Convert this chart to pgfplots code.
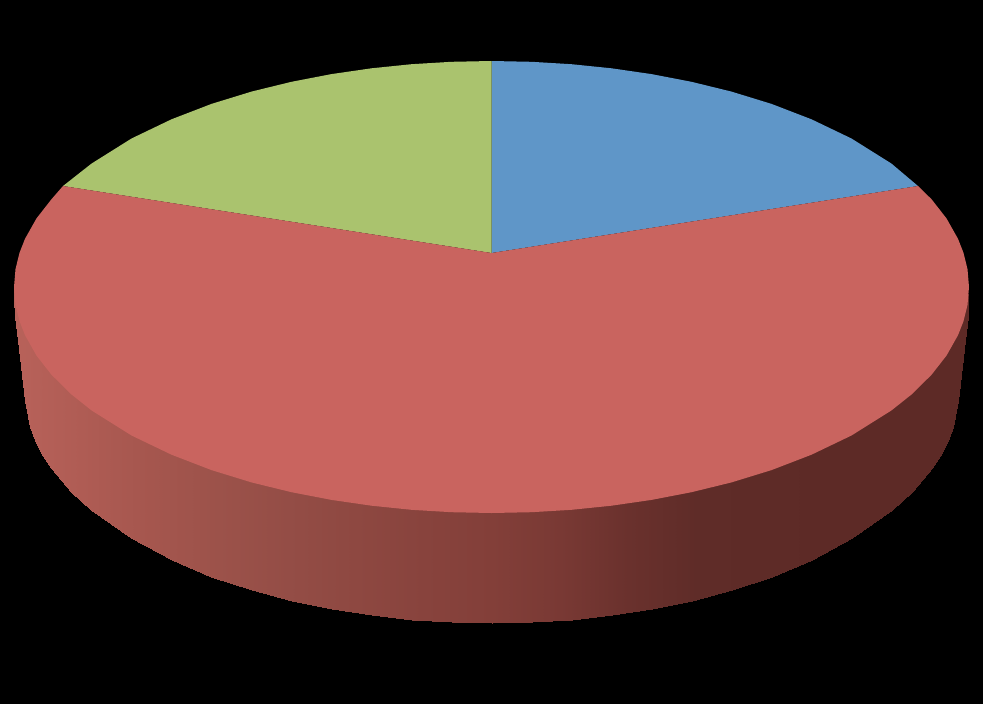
\documentclass[border=0pt]{standalone}
\usepackage{pgfplots}
\pgfplotsset{compat=1.18}
\definecolor{pieblue}{RGB}{95,150,200}
\definecolor{piegreen}{RGB}{170,195,110}
\definecolor{piered}{RGB}{201,100,95}
\pgfplotsset{
	colormap={sideshade}{
		rgb255=(184,98,90)
		rgb255=(175,92,84)
		rgb255=(165,86,78)
		rgb255=(156,82,74)
		rgb255=(148,77,70)
		rgb255=(142,72,65)
		rgb255=(136,67,61)
		rgb255=(131,63,57)
		rgb255=(121,57,52)
		rgb255=(106,49,45)
		rgb255=(95,44,40)
		rgb255=(94,43,39)
		rgb255=(93,42,38)
		rgb255=(93,42,38)
		rgb255=(93,42,38)
	}
}
\begin{document}
\begin{tikzpicture}
	\begin{axis}[
		hide axis,
		scale only axis,
		width=983pt,
		height=704pt,
		xmin=0, xmax=983,
		ymin=0, ymax=704,
		y dir=reverse,
		point meta min=14,
		point meta max=969,
		colormap name=sideshade
		]
		% background
		\addplot[draw=none, fill=black] coordinates {(0,0) (983,0) (983,704) (0,704)} \closedcycle;

		% side wall: upper row runs a little under the disc, lower row is the bottom edge
		\addplot[surf, shader=interp, mesh/rows=2, mesh/cols=39, point meta=x] table {
			x y
			14 287
			15.5 299
			19.5 315
			25 329
			30.5 340
			36.5 350
			43.5 359
			51.5 369
			71.5 388
			91.5 404
			131.5 429
			171.5 449
			211.5 464
			251.5 476
			291.5 486
			331.5 494
			371.5 500
			411.5 504
			451.5 506
			491.5 507
			531.5 506
			571.5 504
			611.5 500
			651.5 494
			691.5 486
			731.5 476
			771.5 464
			811.5 449
			851.5 429
			891.5 404
			911.5 388
			931.5 369
			939.5 359
			946.5 350
			952.5 340
			958 329
			963.5 315
			967.5 299
			969 287
			14 300
			15.5 316
			19.5 349
			25 400.8
			30.5 427.2
			36.5 442.5
			43.5 455.8
			51.5 468.1
			71.5 491.9
			91.5 510.3
			131.5 538.4
			171.5 559.7
			211.5 576.5
			251.5 589.9
			291.5 600.6
			331.5 608.9
			371.5 615.2
			411.5 619.6
			451.5 622.1
			491.5 623
			531.5 622.1
			571.5 619.6
			611.5 615.2
			651.5 608.9
			691.5 600.6
			731.5 589.9
			771.5 576.5
			811.5 559.7
			851.5 538.4
			891.5 510.3
			911.5 491.9
			931.5 468.1
			939.5 455.8
			946.5 442.5
			952.5 427.2
			958 400.8
			963.5 349
			967.5 316
			969 300
		};

		% blue slice
		\addplot[draw=none, fill=pieblue] coordinates {
			(491.5,253) (491.5,61) (531.5,61.8) (571.5,64.2) (611.5,68.3) (651.5,74.1)
			(691.5,81.8) (731.5,91.6) (771.5,103.9) (811.5,119.3) (851.5,138.5)
			(891.5,163.6) (918,186)
		} -- cycle;

		% green slice
		\addplot[draw=none, fill=piegreen] coordinates {
			(491.5,253) (491.5,61) (451.5,61.8) (411.5,64.2) (371.5,68.3) (331.5,74.1)
			(291.5,81.8) (251.5,91.6) (211.5,103.9) (171.5,119.3) (131.5,138.5)
			(91.5,163.6) (63,186)
		} -- cycle;

		% red slice
		\addplot[draw=none, fill=piered] coordinates {
			(491.5,253) (918,186) (931.5,199.2) (946.5,218.4) (958,238.8) (963.5,252.8)
			(967.5,269.1) (969,287) (967.5,304.9) (963.5,321.2) (958,335.2) (946.5,355.6)
			(931.5,374.8) (911.5,394.5) (891.5,410.4) (851.5,435.5) (811.5,454.7)
			(771.5,470.1) (731.5,482.4) (691.5,492.2) (651.5,499.9) (611.5,505.7)
			(571.5,509.8) (531.5,512.2) (491.5,513) (451.5,512.2) (411.5,509.8)
			(371.5,505.7) (331.5,499.9) (291.5,492.2) (251.5,482.4) (211.5,470.1)
			(171.5,454.7) (131.5,435.5) (91.5,410.4) (71.5,394.5) (51.5,374.8)
			(36.5,355.6) (25,335.2) (19.5,321.2) (15.5,304.9) (14,287) (15.5,269.1)
			(19.5,252.8) (25,238.8) (36.5,218.4) (51.5,199.2) (63,186)
		} -- cycle;
	\end{axis}
\end{tikzpicture}
\end{document}
